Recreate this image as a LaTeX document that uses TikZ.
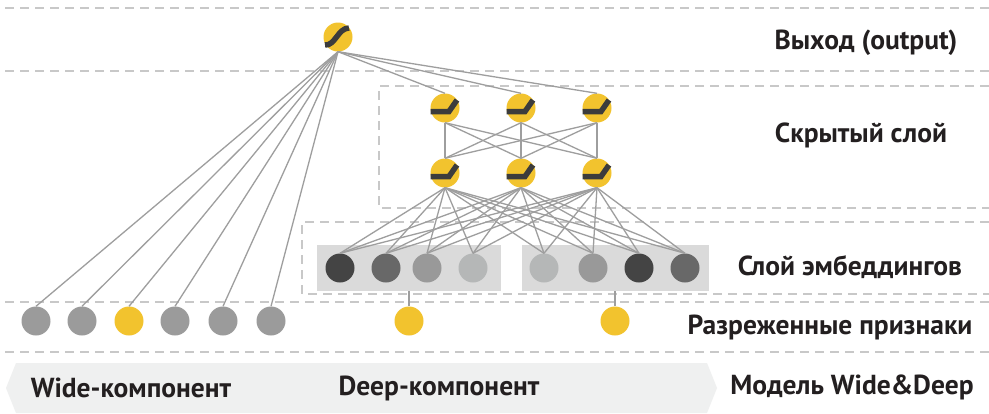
\documentclass[tikz,border=0pt]{standalone}
\usepackage{fontspec}
\setmainfont{PT Sans}
\usetikzlibrary{calc}
\definecolor{ylw}{RGB}{242,195,46}
\definecolor{wirec}{RGB}{158,158,158}
\definecolor{dashc}{RGB}{200,200,200}
\definecolor{txt}{RGB}{35,31,32}
\definecolor{glyphc}{RGB}{60,60,60}
\definecolor{boxc}{RGB}{218,218,218}
\definecolor{bandc}{RGB}{239,240,240}
\definecolor{eA}{RGB}{68,68,68}
\definecolor{eB}{RGB}{104,104,104}
\definecolor{eC}{RGB}{153,153,153}
\definecolor{eD}{RGB}{181,183,183}
\definecolor{wgray}{RGB}{155,155,155}
\begin{document}
\begin{tikzpicture}[x=1pt,y=-1pt,
  neuron/.style={circle, minimum size=29pt, inner sep=0pt, draw=none},
  ynode/.style={neuron, fill=ylw},
  wire/.style={draw=wirec, line width=1.3pt},
  guide/.style={draw=dashc, line width=1.8pt, dash pattern=on 9pt off 6pt},
  glyph/.style={draw=glyphc, line width=5.5pt},
  embbox/.style={rectangle, fill=boxc, draw=none, inner sep=0pt, minimum height=46pt},
  lbl/.style={font=\bfseries\fontsize{27.5}{32}\selectfont, text=txt, inner sep=0pt}
]
\useasboundingbox (0,0) rectangle (989,413);
\fill[white] (0,0) rectangle (989,413);

% bottom band
\fill[bandc] (16,363) -- (707,363) -- (717,388) -- (707,413) -- (16,413) -- (6,388) -- cycle;

% guides
\draw[guide] (5,8) -- (989,8);
\draw[guide] (5,71) -- (989,71);
\draw[guide] (989,86) -- (379,86) -- (379,208) -- (989,208);
\draw[guide] (989,222) -- (302,222) -- (302,294) -- (989,294);
\draw[guide] (5,302) -- (989,302);
\draw[guide] (5,352) -- (989,352);

% embedding boxes
\node[embbox, minimum width=184pt] (eL) at (409,268) {};
\node[embbox, minimum width=187pt] (eR) at (615.5,268) {};

% nodes
\node[ynode] (out) at (338,37) {};
\foreach \i/\x in {1/445,2/521,3/597}{
  \node[ynode] (ha\i) at (\x,108) {};
  \node[ynode] (hb\i) at (\x,173) {};
}
\foreach \i/\x/\c in {1/340/eA,2/386/eB,3/427/eC,4/473/eD,5/544/eD,6/593/eC,7/639/eA,8/685/eB}{
  \node[neuron, fill=\c] (e\i) at (\x,268) {};
}
\foreach \i/\x/\c in {1/36/wgray,2/82/wgray,3/129/ylw,4/175/wgray,5/223/wgray,6/271/wgray}{
  \node[neuron, fill=\c] (w\i) at (\x,321) {};
}
\node[ynode] (s1) at (409,321) {};
\node[ynode] (s2) at (615,321) {};

% connectors
\foreach \i in {1,...,6}{ \draw[wire] (out.south) -- (w\i.north); }
\foreach \i in {1,2,3}{ \draw[wire] (out.south) -- (ha\i.north); }
\foreach \i in {1,2,3}{ \foreach \j in {1,2,3}{ \draw[wire] (ha\i.south) -- (hb\j.north); } }
\foreach \i in {1,2,3}{ \foreach \j in {1,...,8}{ \draw[wire] (hb\i.south) -- (e\j.north); } }
\draw[wire] (s1.north) -- (s1.north |- eL.south);
\draw[wire] (s2.north) -- (s2.north |- eR.south);

% glyphs
\draw[glyph] ([shift={(-13,8)}]out.center) .. controls ([shift={(-3,9)}]out.center) and ([shift={(0,-9)}]out.center) .. ([shift={(11,-9)}]out.center);
\foreach \n in {ha1,ha2,ha3,hb1,hb2,hb3}{
  \draw[glyph] ([shift={(-14.5,3.5)}]\n.center) -- ([shift={(4,3.5)}]\n.center) -- ([shift={(12,-8)}]\n.center);
}

% labels
\node[lbl] (l1) at (866,43) {Выход (output)};
\node[lbl] (l2) at (861,135) {Скрытый слой};
\node[lbl] (l3) at (850,267) {Слой эмбеддингов};
\node[lbl] (l4) at (830,327) {Разреженные признаки};
\node[lbl] (l5) at (852,387) {Модель Wide\&Deep};
\node[lbl] (l6) at (131,388) {Wide-компонент};
\node[lbl] (l7) at (439,388) {Deep-компонент};
\end{tikzpicture}
\end{document}
